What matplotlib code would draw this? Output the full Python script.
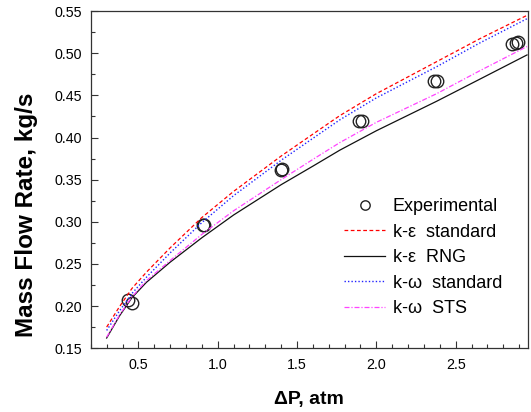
import matplotlib.pyplot as plt
from matplotlib.ticker import MultipleLocator

plt.rcParams['font.family'] = ['Liberation Sans', 'DejaVu Sans']

# experimental points (duplicates overlap)
exp_dp = [0.435, 0.462, 0.905, 0.915, 1.400, 1.405, 1.892, 1.907, 2.361, 2.382, 2.857, 2.878, 2.895]
exp_m = [0.207, 0.203, 0.296, 0.296, 0.361, 0.363, 0.419, 0.420, 0.4675, 0.4675, 0.5107, 0.5126, 0.5138]

# model curves
dp = [0.3, 0.38, 0.46, 0.55, 0.7, 0.9, 1.1, 1.4, 1.6, 1.77, 2.0, 2.38, 2.65, 2.95]
ke_std = [0.175, 0.199, 0.221, 0.240, 0.269, 0.305, 0.336, 0.378, 0.404, 0.426, 0.452, 0.490, 0.517, 0.545]
ke_rng = [0.162, 0.188, 0.210, 0.228, 0.252, 0.281, 0.308, 0.344, 0.366, 0.385, 0.408, 0.443, 0.469, 0.498]
kw_std = [0.171, 0.194, 0.215, 0.234, 0.263, 0.299, 0.331, 0.373, 0.399, 0.421, 0.447, 0.484, 0.512, 0.541]
kw_sts = [0.163, 0.189, 0.211, 0.230, 0.254, 0.285, 0.313, 0.350, 0.374, 0.394, 0.418, 0.452, 0.479, 0.508]

fig = plt.figure(figsize=(5.31, 4.12), dpi=100)
ax = fig.add_axes([0.171, 0.155, 0.823, 0.818])

ax.plot(exp_dp, exp_m, 'o', mfc='none', mec='#222222', ms=9, mew=1.0, label='Experimental')
ax.plot(dp, ke_std, color='#ff0000', lw=0.9, ls=(0, (3, 2)), label='k-ε  standard')
ax.plot(dp, ke_rng, color='#111111', lw=0.9, ls='-', label='k-ε  RNG')
ax.plot(dp, kw_std, color='#2222ff', lw=1.0, ls=(0, (1, 1.5)), label='k-ω  standard')
ax.plot(dp, kw_sts, color='#ff44ff', lw=0.9, ls=(0, (4, 1.5, 1, 1.5)), label='k-ω  STS')

ax.set_xlim(0.2, 2.955)
ax.set_ylim(0.15, 0.55)
ax.xaxis.set_major_locator(MultipleLocator(0.5))
ax.xaxis.set_minor_locator(MultipleLocator(0.1))
ax.yaxis.set_major_locator(MultipleLocator(0.05))
ax.yaxis.set_minor_locator(MultipleLocator(0.025))
ax.set_xticks([0.5, 1.0, 1.5, 2.0, 2.5])
ax.tick_params(which='both', direction='in', top=False, right=False, labelsize=10.3, color='#333333')
ax.tick_params(which='major', length=5, width=0.8)
ax.tick_params(which='minor', length=3, width=0.8)
ax.tick_params(axis='y', pad=6)
ax.tick_params(axis='x', pad=7)
ax.yaxis.set_major_formatter(plt.FuncFormatter(lambda v, p: '%.2f' % v))
ax.xaxis.set_major_formatter(plt.FuncFormatter(lambda v, p: '%.1f' % v))
for s in ax.spines.values():
    s.set_linewidth(0.9)
    s.set_color('#333333')

ax.set_xlabel('ΔP, atm', fontsize=14, fontweight='bold', labelpad=14)
ax.set_ylabel('Mass Flow Rate, kg/s', fontsize=17.5, fontweight='bold')
ax.yaxis.set_label_coords(-0.121, 0.395)

ax.legend(loc='upper left', bbox_to_anchor=(0.579, 0.445), frameon=False, fontsize=13,
          borderpad=0, borderaxespad=0, handlelength=2.3, handletextpad=0.4,
          labelspacing=0.47, markerscale=0.75)

fig.savefig('out.png', dpi=100)
